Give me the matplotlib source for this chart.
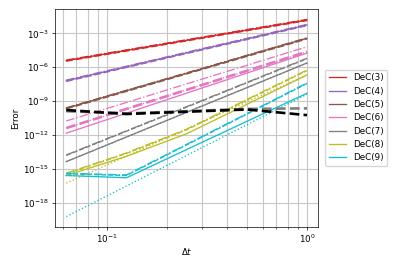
import numpy as np
import matplotlib
matplotlib.use("Agg")
import matplotlib.pyplot as plt
from matplotlib.ticker import LogLocator, NullLocator

# time steps
dt = [1/16, 1/8, 1/4, 1/2, 1]

labels = ["DeC(3)", "DeC(4)", "DeC(5)", "DeC(6)", "DeC(7)", "DeC(8)", "DeC(9)"]
colors = ["tab:red", "tab:purple", "tab:brown", "tab:pink", "tab:gray", "tab:olive", "tab:cyan"]

# log10 of the error (dt = 1/16 ... 1)
err_solid = [
    [-5.42, -4.52, -3.62, -2.72, -1.82],
    [-7.20, -5.97, -4.73, -3.50, -2.26],
    [-9.64, -8.09, -6.54, -4.99, -3.44],
    [-11.85, -10.08, -8.30, -6.53, -4.75],
    [-14.37, -12.19, -10.00, -7.82, -5.63],
    [-15.60, -13.90, -11.90, -9.30, -6.69],
    [-15.60, -15.80, -13.30, -10.80, -8.31],
]
err_dashdot = [
    [-5.37, -4.47, -3.57, -2.67, -1.77],
    [-7.15, -5.92, -4.68, -3.45, -2.21],
    [-9.60, -8.05, -6.50, -4.95, -3.40],
    [-10.77, -9.13, -7.48, -5.84, -4.19],
    [-13.78, -11.64, -9.50, -7.35, -5.21],
    [-15.40, -13.60, -11.50, -8.87, -6.25],
    [-15.40, -15.55, -12.84, -10.12, -7.40],
]
err_dashed = [
    [-5.45, -4.55, -3.65, -2.75, -1.85],
    [-7.25, -6.01, -4.77, -3.54, -2.30],
    [-9.68, -8.13, -6.58, -5.03, -3.48],
    [-11.40, -9.70, -8.01, -6.32, -4.63],
    [-13.82, -11.68, -9.54, -7.39, -5.25],
    [-15.45, -13.65, -11.55, -8.92, -6.30],
    [-15.45, -15.60, -12.89, -10.17, -7.45],
]
err_dotted = [
    [-5.42, -4.52, -3.62, -2.72, -1.82],
    [-7.20, -5.97, -4.73, -3.50, -2.26],
    [-9.64, -8.09, -6.54, -4.99, -3.44],
    [-11.40, -9.70, -8.01, -6.32, -4.63],
    [-14.37, -12.19, -10.00, -7.82, -5.63],
    [-16.28, -13.88, -11.48, -9.09, -6.69],
    [-19.24, -16.53, -13.82, -11.11, -8.40],
]
# stagnating runs
err_gray_flat = [-9.90, -10.10, -9.90, -9.70, -9.65]
err_black = [-9.80, -10.15, -9.95, -9.75, -10.25]

plt.rcParams["font.size"] = 6.3
plt.rcParams["axes.linewidth"] = 0.5
plt.rcParams["axes.labelpad"] = 2.5
for a in ("xtick", "ytick"):
    plt.rcParams[a + ".major.size"] = 2.2
    plt.rcParams[a + ".minor.size"] = 1.25
    plt.rcParams[a + ".major.width"] = 0.5
    plt.rcParams[a + ".minor.width"] = 0.4
    plt.rcParams[a + ".major.pad"] = 2.2
    plt.rcParams[a + ".minor.pad"] = 2.2

fig = plt.figure(figsize=(3.99, 2.66), dpi=100)
ax = fig.add_axes([0.138, 0.148, 0.659, 0.818])

lw = 0.95
for i in range(len(labels)):
    c = colors[i]
    ax.loglog(dt, 10.0 ** np.array(err_solid[i]), "-", color=c, lw=lw, label=labels[i])
    ax.loglog(dt, 10.0 ** np.array(err_dashdot[i]), "-.", color=c, lw=lw)
    if i < 3:
        dlw = 1.3
    elif i == 3:
        dlw = 1.9
    else:
        dlw = lw
    ax.loglog(dt, 10.0 ** np.array(err_dashed[i]), "--", color=c, lw=dlw)
    ax.loglog(dt, 10.0 ** np.array(err_dotted[i]), ":", color=c, lw=lw)

ax.loglog(dt, 10.0 ** np.array(err_gray_flat), "--", color="tab:gray", lw=1.9)
ax.loglog(dt, 10.0 ** np.array(err_black), "--", color="black", lw=1.9)

ax.set_xlim(10 ** -1.26, 10 ** 0.055)
ax.set_ylim(10 ** -20.13, 10 ** -0.85)
ax.set_yticks([10.0 ** k for k in range(-18, -2, 3)])
ax.yaxis.set_minor_locator(NullLocator())
ax.xaxis.set_minor_locator(LogLocator(base=10, subs=np.arange(2, 10)))

ax.grid(which="major", color="#c8c8c8", lw=0.8)
ax.xaxis.grid(which="minor", color="#c8c8c8", lw=0.8)
ax.set_axisbelow(True)

ax.set_xlabel(r"$\Delta t$", labelpad=0.5)
ax.set_ylabel("Error")
ax.legend(loc="center left", bbox_to_anchor=(1.01, 0.5), fontsize=6.3)

fig.savefig("out.png", dpi=100)
